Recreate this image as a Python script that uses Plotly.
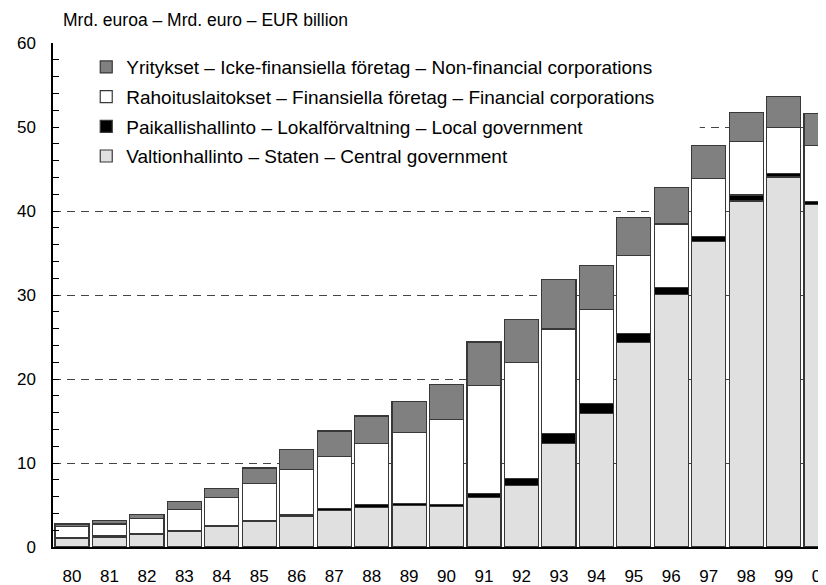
import plotly.graph_objects as go

years = ["80","81","82","83","84","85","86","87","88","89","90","91","92","93","94","95","96","97","98","99","00"]
central = [1.05, 1.2, 1.5, 1.9, 2.4, 3.05, 3.6, 4.35, 4.75, 4.95, 4.8, 5.85, 7.3, 12.35, 15.85, 24.3, 30.1, 36.35, 41.2, 44.05, 40.75]
local =   [0.1, 0.1, 0.1, 0.1, 0.12, 0.15, 0.2, 0.25, 0.35, 0.25, 0.3, 0.5, 0.9, 1.2, 1.25, 1.1, 0.8, 0.65, 0.7, 0.45, 0.35]
financial = [1.25, 1.45, 1.75, 2.5, 3.35, 4.4, 5.4, 6.2, 7.2, 8.4, 10.1, 12.9, 13.8, 12.4, 11.2, 9.3, 7.55, 6.85, 6.35, 5.4, 6.7]
nonfin = [0.35, 0.45, 0.55, 0.9, 1.1, 1.8, 2.45, 3.0, 3.3, 3.7, 4.1, 5.15, 5.1, 5.85, 5.2, 4.5, 4.35, 3.95, 3.45, 3.7, 3.8]

names = [
    "Valtionhallinto – Staten – Central government",
    "Paikallishallinto – Lokalförvaltning – Local government",
    "Rahoituslaitokset – Finansiella företag – Financial corporations",
    "Yritykset – Icke-finansiella företag – Non-financial corporations",
]
series = [central, local, financial, nonfin]
colors = ["#e0e0e0", "#000000", "#ffffff", "#808080"]
ranks = [4, 3, 2, 1]

FONT = "Liberation Sans, Arial, sans-serif"

fig = go.Figure()
for nm, vals, col, rk in zip(names, series, colors, ranks):
    fig.add_trace(go.Bar(
        x=years, y=vals, name=nm,
        marker=dict(color=col, line=dict(color="#383838", width=1.2)),
        legendgroup=nm, legendrank=rk,
    ))

# white legend backdrop hiding the gridline behind the legend (under the bars)
fig.add_shape(type="rect", xref="x", yref="y", x0=-0.6, x1=16.76, y0=46, y1=59,
              fillcolor="white", line=dict(width=0), layer="between")

# page body has an 8px default margin; figure is sized/offset to compensate
fig.update_layout(
    width=818, height=577,
    barmode="stack", bargap=0.09,
    plot_bgcolor="white", paper_bgcolor="white",
    margin=dict(l=45, r=0, t=35, b=38, autoexpand=False),
    font=dict(family=FONT, size=17, color="#000000"),
    showlegend=True,
    legend=dict(
        traceorder="grouped", x=0.043, y=0.99, xanchor="left", yanchor="top",
        bgcolor="white", borderwidth=0, font=dict(size=19, family=FONT),
        tracegroupgap=2, itemclick=False,
    ),
    xaxis=dict(
        type="category", range=[-0.507, 20.13], automargin=False,
        showline=True, linecolor="#000000", linewidth=1.5,
        ticks="", showgrid=False, tickfont=dict(size=17),
        ticklabelstandoff=13,
    ),
    yaxis=dict(
        range=[0, 60], dtick=10, tick0=0, automargin=False,
        showline=True, linecolor="#000000", linewidth=1.5,
        ticks="inside", ticklen=6, tickcolor="#000000",
        minor=dict(dtick=2, ticks="inside", ticklen=6, tickcolor="#000000", showgrid=False),
        showgrid=True, gridcolor="#444444", gridwidth=1, griddash="8px,6px",
        zeroline=False, tickfont=dict(size=17), ticklabelstandoff=12,
    ),
    annotations=[dict(
        text="Mrd. euroa – Mrd. euro – EUR billion",
        xref="paper", yref="paper", x=0.0103, y=1, xanchor="left", yanchor="bottom",
        yshift=11, showarrow=False, font=dict(size=17.5, family=FONT),
    )],
)

fig.write_html("out.html")
